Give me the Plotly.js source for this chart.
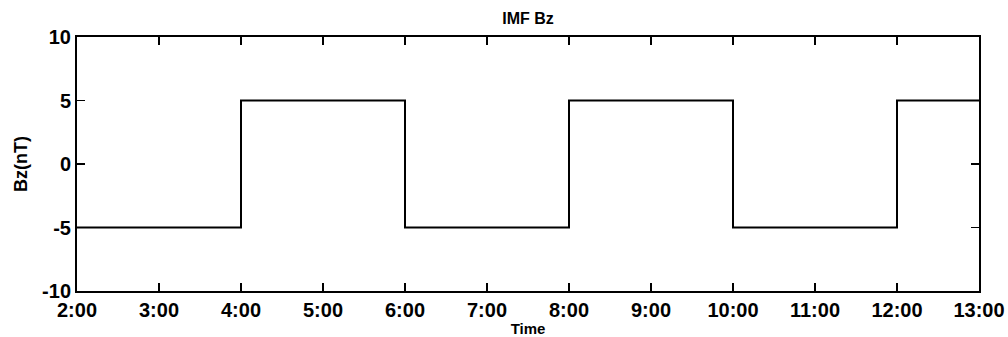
<!DOCTYPE html>
<html>
<head>
<meta charset="utf-8">
<script src="https://cdn.plot.ly/plotly-3.0.1.min.js"></script>
<style>html,body{margin:0;padding:0;background:#fff;}#chart{width:1008px;height:337px;}</style>
</head>
<body>
<div id="chart"></div>
<script>
// Time in hours, Bz values (step function, held until next time)
const timeHours = [2, 4, 6, 8, 10, 12, 13];
const bzValues = [-5, 5, -5, 5, -5, 5, 5];
const xTickVals = [2, 3, 4, 5, 6, 7, 8, 9, 10, 11, 12, 13];
const xTickText = ["2:00", "3:00", "4:00", "5:00", "6:00", "7:00", "8:00", "9:00", "10:00", "11:00", "12:00", "13:00"];
const yTickVals = [-10, -5, 0, 5, 10];
const yTickText = ["-10", "-5", "0", "5", "10"];

const fontFam = "Liberation Sans, Arial, sans-serif";

const trace = {
  x: timeHours,
  y: bzValues,
  mode: "lines",
  line: {shape: "hv", color: "#000", width: 2},
  hoverinfo: "skip"
};

const layout = {
  width: 1008,
  height: 337,
  margin: {l: 77, r: 29, t: 37, b: 46, pad: 0},
  paper_bgcolor: "#fff",
  plot_bgcolor: "#fff",
  showlegend: false,
  title: {
    text: "IMF Bz",
    font: {family: fontFam, size: 16, color: "#000", weight: "bold"},
    x: 0.5, xref: "paper", y: 19, yref: "container", yanchor: "middle"
  },
  xaxis: {
    range: [2, 13],
    tickvals: xTickVals,
    ticktext: xTickText,
    ticks: "inside",
    ticklen: 8,
    tickwidth: 1.5,
    tickcolor: "#000",
    showline: true,
    linecolor: "#000",
    linewidth: 2,
    mirror: "ticks",
    showgrid: false,
    zeroline: false,
    tickfont: {family: fontFam, size: 20, color: "#000", weight: "bold"},
    title: {text: "Time", font: {family: fontFam, size: 15, color: "#000", weight: "bold"}, standoff: 8}
  },
  yaxis: {
    range: [-10, 10],
    tickvals: yTickVals,
    ticktext: yTickText,
    ticks: "inside",
    ticklen: 8,
    tickwidth: 1.5,
    tickcolor: "#000",
    showline: true,
    linecolor: "#000",
    linewidth: 2,
    mirror: "ticks",
    showgrid: false,
    zeroline: false,
    tickfont: {family: fontFam, size: 20, color: "#000", weight: "bold"},
    title: {text: "Bz(nT)", font: {family: fontFam, size: 18, color: "#000", weight: "bold"}, standoff: 10}
  }
};

Plotly.newPlot("chart", [trace], layout, {staticPlot: true, displayModeBar: false});
</script>
</body>
</html>
